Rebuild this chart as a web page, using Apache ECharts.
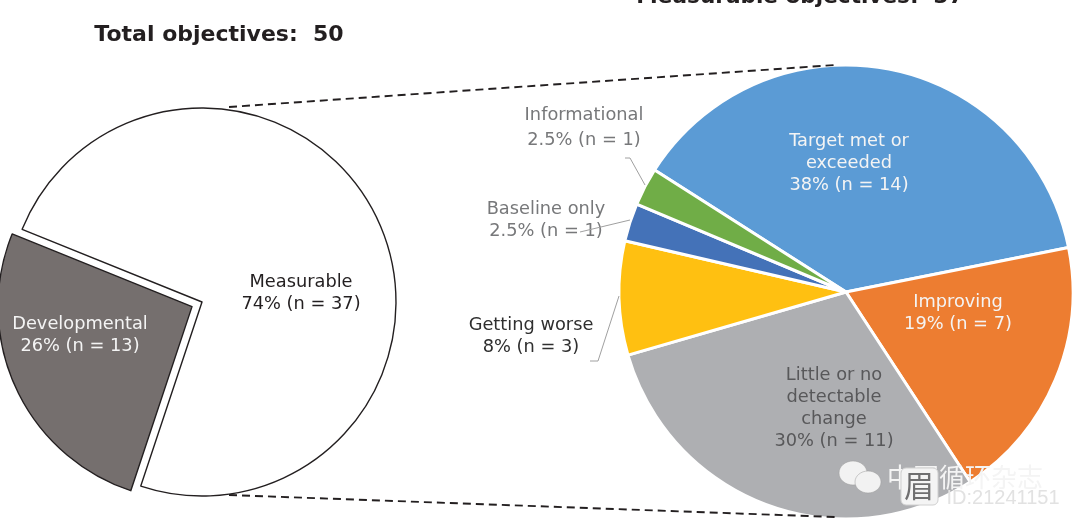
<!DOCTYPE html>
<html><head><meta charset="utf-8">
<style>html,body{margin:0;padding:0;background:#fff}#c{width:1080px;height:526px}</style>
<script src="https://cdn.jsdelivr.net/npm/echarts@6/dist/echarts.min.js"></script></head>
<body><div id="c"></div>
<script>
const leftNames = ['Measurable', 'Developmental'];
const leftValues = [37, 13];
const leftLabels = ['Measurable\n74% (n = 37)', 'Developmental\n26% (n = 13)'];
const rightNames = ['Target met or exceeded', 'Improving', 'Little or no detectable change', 'Getting worse', 'Baseline only', 'Informational'];
const rightValues = [14, 7, 11, 3, 1, 1];
const rightLabels = ['Target met or\nexceeded\n38% (n = 14)', 'Improving\n19% (n = 7)', 'Little or no\ndetectable\nchange\n30% (n = 11)', 'Getting worse\n8% (n = 3)', 'Baseline only\n2.5% (n = 1)', 'Informational\n2.5% (n = 1)'];
const rightColors = ['#5B9BD5', '#ED7D31', '#AEAFB2', '#FFC011', '#4472B8', '#70AD47'];
const rightLabelColors = ['#f4f4f4', '#f4f4f4', '#58585a', '#2f2f2f', '#77787a', '#77787a'];
const rightLineHeights = [22, 22, 22, 22, 22, 25];
const leftLabelPos = [[301, 293], [80, 335]];
const rightLabelPos = [[849, 163], [958, 313], [834, 408], [531, 336], [546, 220], [584, 128]];
const FONT = 'DejaVu Sans';
const FS = 17.8;
const chart = echarts.init(document.getElementById('c'), null, {renderer: 'canvas'});
function txt(x, y, t, font, fill, z, lh) {
  return {type: 'text', x, y, silent: true, z: z || 20, style: {text: t, font, fill, align: 'center', verticalAlign: 'middle', lineHeight: lh}};
}
function poly(points, stroke, w, dash) {
  return {type: 'polyline', silent: true, z: 15, shape: {points}, style: {stroke, lineWidth: w, fill: null, lineDash: dash || null}};
}
chart.setOption({
  animation: false,
  backgroundColor: '#fff',
  graphic: [
    txt(219, 35, 'Total objectives:  50', 'bold 22px "' + FONT + '"', '#231f20'),
    txt(800, -3, 'Measurable objectives:  37', 'bold 21.6px "' + FONT + '"', '#231f20'),
    txt(leftLabelPos[1][0], leftLabelPos[1][1], leftLabels[1], FS + 'px "' + FONT + '"', '#f4f4f4', 20, 22),
    poly([[229, 107], [835, 65]], '#231f20', 1.9, [8, 5]),
    poly([[229, 495], [835, 517]], '#231f20', 1.9, [8, 5]),
    poly([[645, 185], [630, 158], [625, 158]], '#a0a0a0', 1),
    poly([[630, 220], [580, 232]], '#a0a0a0', 1),
    poly([[619, 296], [598, 361], [590, 361]], '#a0a0a0', 1),
    {type: 'ellipse', z: 25, silent: true, shape: {cx: 853, cy: 473, rx: 14, ry: 12}, style: {fill: '#f2f2f2', stroke: '#9a9a9a', lineWidth: 0.5}},
    {type: 'ellipse', z: 26, silent: true, shape: {cx: 868, cy: 482, rx: 13, ry: 11}, style: {fill: '#f2f2f2', stroke: '#9a9a9a', lineWidth: 0.5}},
    txt(965, 477, '中国循环杂志', '26px "Noto Sans CJK SC"', '#f4f4f4', 25),
    txt(1003, 498, 'ID:21241151', '20px "Liberation Sans"', '#e2e2e2', 25),
    {type: 'rect', z: 27, silent: true, shape: {x: 901, y: 468, width: 37, height: 37, r: 5}, style: {fill: '#f4f4f4', stroke: '#d0d0d0', lineWidth: 1}},
    txt(919, 486, '眉', '30px "Noto Sans CJK SC"', '#6f6f70', 28)
  ],
  series: [
    {
      type: 'pie', radius: [0, 194], center: [202, 302], startAngle: 158, clockwise: true,
      selectedMode: 'multiple', selectedOffset: 11, avoidLabelOverlap: false,
      sort: null,
      data: leftValues.map((v, i) => ({
        name: leftNames[i], value: v, selected: i === 1,
        itemStyle: {color: i === 0 ? '#fff' : '#756F6E', borderColor: '#231f20', borderWidth: 1.4},
        select: {itemStyle: {color: '#756F6E', borderColor: '#231f20', borderWidth: 1.4}, label: {show: false}},
        label: {show: i === 0, color: '#231f20'}
      })),
      label: {position: 'inside', fontFamily: FONT, fontSize: FS, lineHeight: 22, align: 'center',
        formatter: p => leftLabels[p.dataIndex]},
      labelLine: {show: false},
      labelLayout: p => ({x: leftLabelPos[p.dataIndex][0], y: leftLabelPos[p.dataIndex][1], align: 'center', verticalAlign: 'middle'}),
      emphasis: {disabled: true}
    },
    {
      type: 'pie', radius: [0, 227], center: [846, 292], startAngle: 147.5, clockwise: true,
      avoidLabelOverlap: false,
      data: rightValues.map((v, i) => ({
        name: rightNames[i], value: v,
        itemStyle: {color: rightColors[i], borderColor: '#fff', borderWidth: 3},
        label: {color: rightLabelColors[i], lineHeight: rightLineHeights[i]}
      })),
      label: {show: true, position: 'inside', fontFamily: FONT, fontSize: FS, align: 'center',
        formatter: p => rightLabels[p.dataIndex]},
      labelLine: {show: false},
      labelLayout: p => ({x: rightLabelPos[p.dataIndex][0], y: rightLabelPos[p.dataIndex][1], align: 'center', verticalAlign: 'middle'}),
      emphasis: {disabled: true}
    }
  ]
});
</script></body></html>
